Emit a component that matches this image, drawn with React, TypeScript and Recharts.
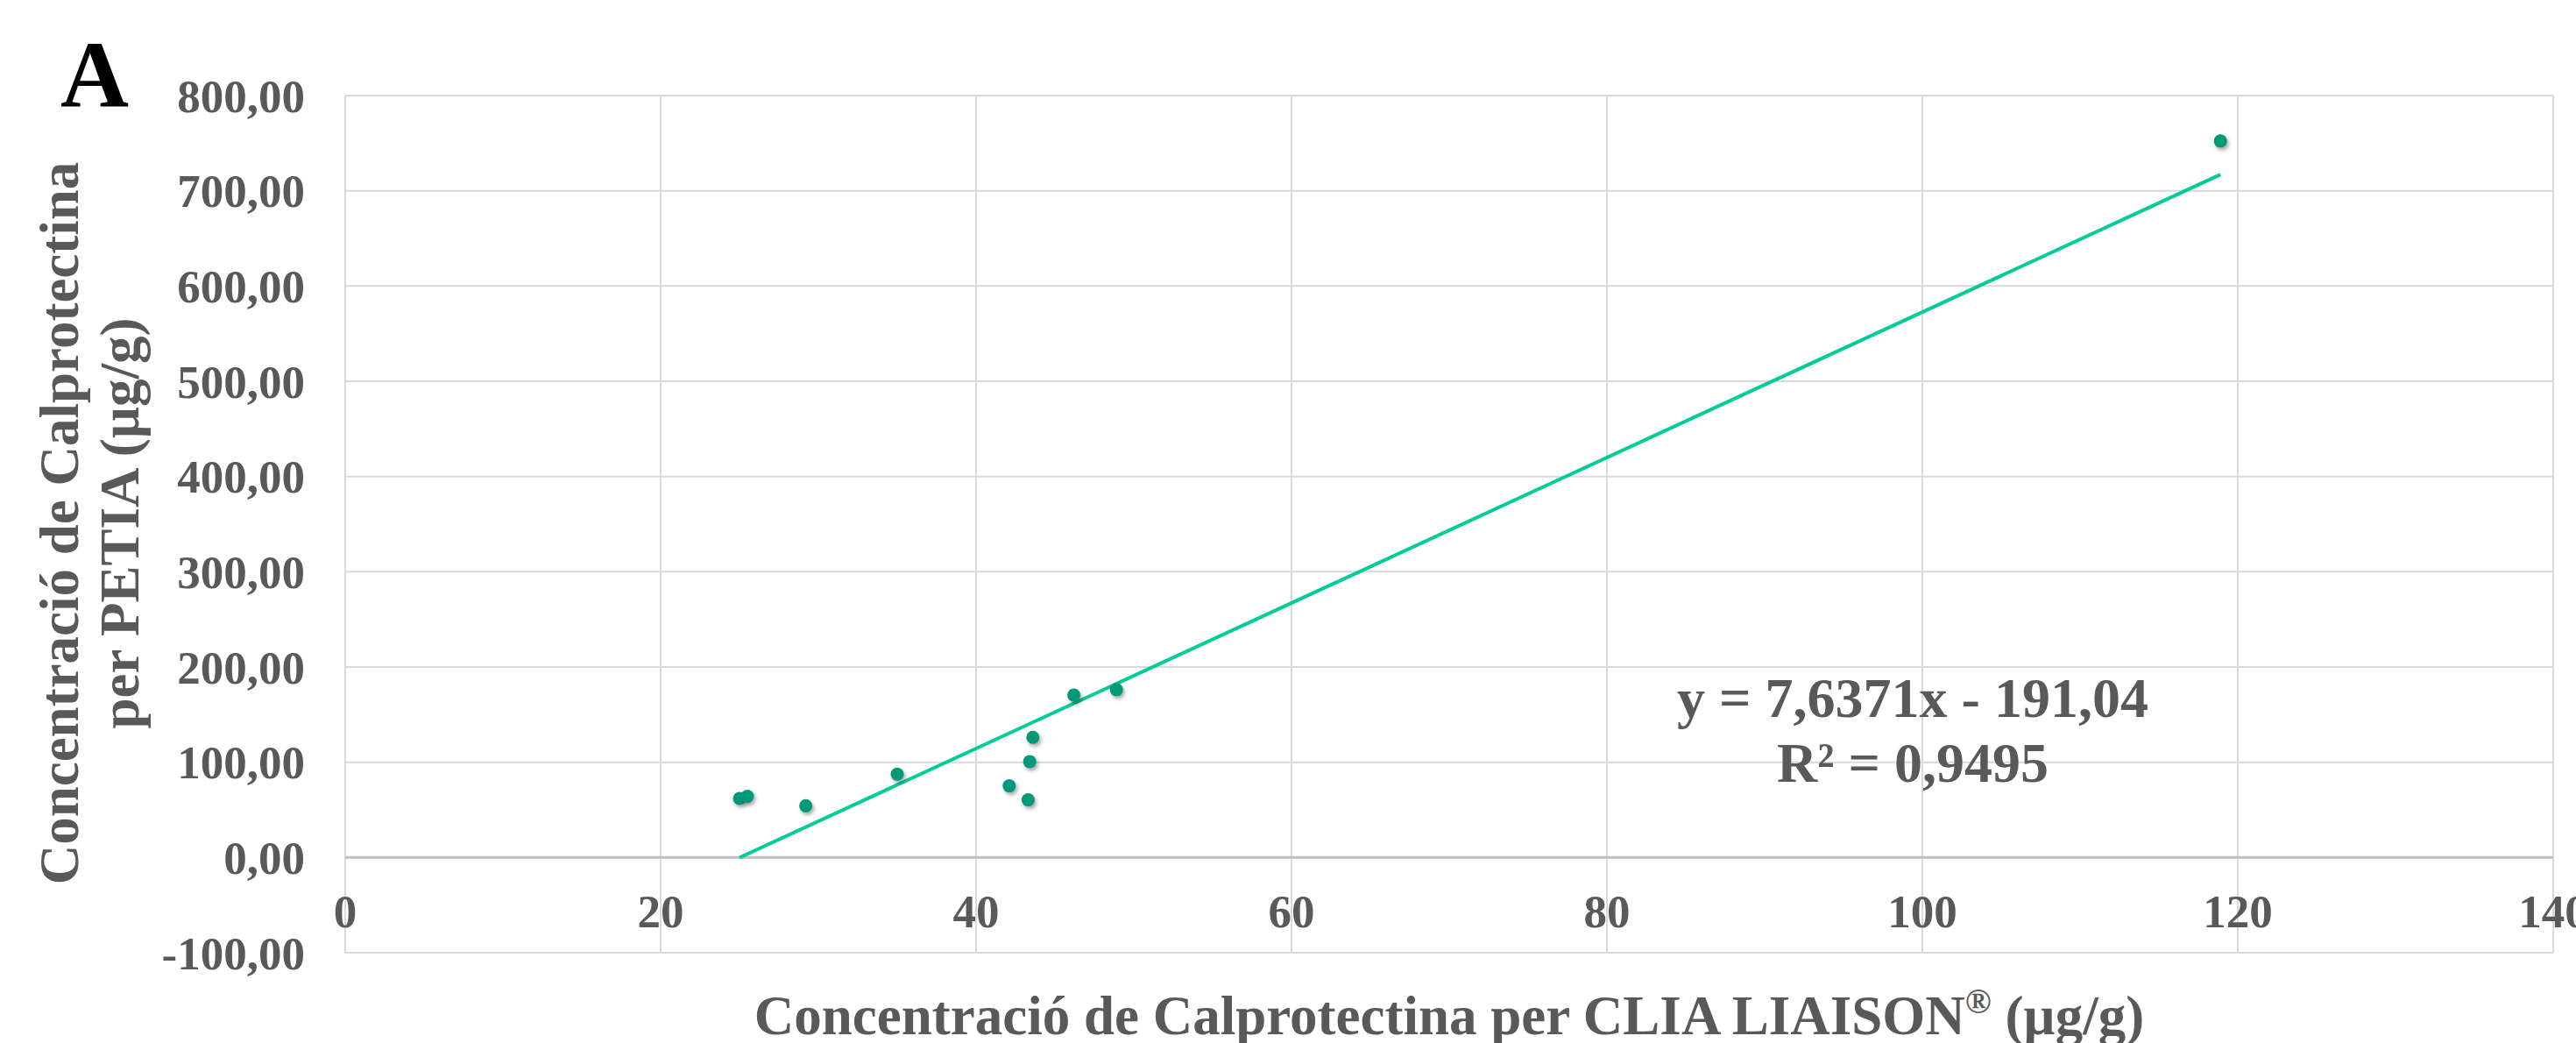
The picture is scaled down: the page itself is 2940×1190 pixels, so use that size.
import { ScatterChart, Scatter, XAxis, YAxis, CartesianGrid, ReferenceLine, Label } from "recharts";

// values
const liaison = [25.0, 25.5, 29.2, 35.0, 42.1, 43.3, 43.4, 43.6, 46.2, 48.9, 118.9];
const petia = [62.0, 64.2, 54.3, 87.5, 75.2, 60.5, 100.7, 126.1, 170.6, 176.2, 752.3];
const xTicks = [0, 20, 40, 60, 80, 100, 120, 140];
const yTicks = [-100, 0, 100, 200, 300, 400, 500, 600, 700, 800];
const slope = 7.6371;
const intercept = -191.04;
const equationLines = ["y = 7,6371x - 191,04", "R² = 0,9495"];

const points = liaison.map((x, i) => ({ x, y: petia[i] }));
const xMin = Math.min(...liaison);
const xMax = Math.max(...liaison);
const trend = [
  { x: xMin, y: slope * xMin + intercept },
  { x: xMax, y: slope * xMax + intercept },
];

const FONT = "'Liberation Serif', 'Times New Roman', serif";
const GRAY = "#595959";

const fmtY = (v: number) => v.toFixed(2).replace(".", ",");

function XTick({ x, y, payload }: any) {
  return (
    <text x={x} y={y - 47} textAnchor="middle" dominantBaseline="central" fontFamily={FONT} fontWeight="bold" fontSize={53} fill={GRAY}>
      {payload.value}
    </text>
  );
}

function Dot({ cx, cy }: any) {
  return <circle cx={cx} cy={cy} r={7.5} fill="#00997a" style={{ filter: "drop-shadow(2px 3px 2px rgba(0,0,0,0.35))" }} />;
}

const titleStyle = { fontFamily: FONT, fontWeight: "bold" as const, fontSize: 63, fill: GRAY };

export default function App() {
  return (
    <div style={{ position: "absolute", left: 0, top: 0, width: 2940, height: 1190, background: "#fff" }}>
      <ScatterChart width={2940} height={1190} margin={{ top: 109, right: 26, left: 0, bottom: 0 }}>
        <CartesianGrid stroke="#d9d9d9" strokeWidth={2} />
        <XAxis
          type="number"
          dataKey="x"
          domain={[0, 140]}
          ticks={xTicks}
          height={103}
          axisLine={false}
          tickLine={false}
          tickSize={0}
          tickMargin={0}
          tick={<XTick />}
        >
          <Label
            content={() => (
              <text x={1654} y={1180} textAnchor="middle" {...titleStyle}>
                Concentració de Calprotectina per CLIA LIAISON
                <tspan dy={-24} fontSize={40}>®</tspan>
                <tspan dy={24}> (µg/g)</tspan>
              </text>
            )}
          />
        </XAxis>
        <YAxis
          type="number"
          dataKey="y"
          domain={[-100, 800]}
          ticks={yTicks}
          width={394}
          axisLine={false}
          tickLine={false}
          tickSize={0}
          tickMargin={46}
          tickFormatter={fmtY}
          tick={{ fontFamily: FONT, fontWeight: "bold", fontSize: 53, fill: GRAY }}
        >
          <Label
            content={() => (
              <g>
                <text transform="translate(89,597) rotate(-90)" textAnchor="middle" {...titleStyle}>
                  Concentració de Calprotectina
                </text>
                <text transform="translate(158,597) rotate(-90)" textAnchor="middle" {...titleStyle}>
                  per PETIA (µg/g)
                </text>
              </g>
            )}
          />
        </YAxis>
        <ReferenceLine y={0} stroke="#bfbfbf" strokeWidth={3} />
        <Scatter data={trend} line={{ stroke: "#00cc99", strokeWidth: 4 }} shape={() => <g />} isAnimationActive={false} />
        <Scatter data={points} shape={<Dot />} isAnimationActive={false} />
      </ScatterChart>
      <svg width={2940} height={1190} style={{ position: "absolute", left: 0, top: 0, pointerEvents: "none" }}>
        <text x={69} y={122} fontFamily={FONT} fontWeight="bold" fontSize={108} fill="#000">
          A
        </text>
        {equationLines.map((line, i) => (
          <text key={line} x={2183} y={818 + i * 74} textAnchor="middle" fontFamily={FONT} fontWeight="bold" fontSize={64} fill={GRAY}>
            {line}
          </text>
        ))}
      </svg>
    </div>
  );
}
